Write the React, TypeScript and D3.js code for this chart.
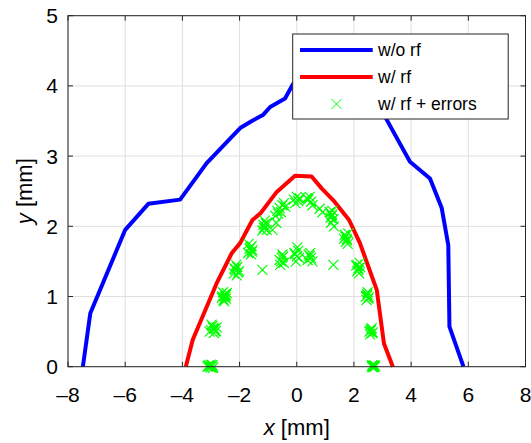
import React from 'react';
import * as d3 from 'd3';

const xTicks = [-8, -6, -4, -2, 0, 2, 4, 6, 8];
const yTicks = [0, 1, 2, 3, 4, 5];

// w/o rf
const blueX = [-7.48, -7.22, -6.0, -5.19, -4.08, -3.15, -1.98, -1.57, -1.17, -0.93, -0.41, -0.14, 0.3, 1.5, 2.6, 3.13, 3.96, 4.66, 5.07, 5.3, 5.34, 5.83];
const blueY = [0, 0.76, 1.95, 2.32, 2.38, 2.9, 3.4, 3.5, 3.59, 3.7, 3.82, 4.02, 4.25, 4.3, 4.0, 3.53, 2.92, 2.68, 2.26, 1.73, 0.57, 0];

// w/ rf
const redX = [-3.88, -3.64, -2.8, -2.27, -1.98, -1.55, -1.28, -0.7, -0.06, 0.52, 0.87, 1.28, 1.83, 2.21, 2.8, 3.05, 3.36];
const redY = [0, 0.38, 1.19, 1.62, 1.76, 2.09, 2.18, 2.49, 2.72, 2.71, 2.54, 2.37, 2.09, 1.76, 1.09, 0.33, 0];

// w/ rf + errors
const errX = [
  -3.12, -3.05, -2.98, -2.92, -3.08, -2.95, -3.02, -3.1, -2.94, -3.0,
  -3.0, -2.92, -2.85, -2.95, -2.8, -3.05, -2.9, -2.88, -2.98, -2.83,
  -2.6, -2.52, -2.48, -2.56, -2.45, -2.58, -2.5, -2.54, -2.47, -2.62,
  -2.15, -2.08, -2.2, -2.1, -2.02, -2.12, -2.18, -2.05, -2.14,
  -1.65, -1.58, -1.7, -1.6, -1.55, -1.68, -1.62, -1.57,
  -1.15, -1.08, -1.2, -1.05, -1.12, -1.1, -1.17,
  -0.75, -0.68, -0.6, -0.72, -0.5, -0.45, -0.55, -0.65, -0.4,
  -0.1, 0.0, 0.05, -0.05, 0.4, 0.5, 0.45, 0.55, 0.8, 0.9, 0.35, 0.1,
  1.15, 1.22, 1.28, 1.2, 1.25, 1.3, 1.18, 1.24,
  1.68, 1.75, 1.8, 1.72, 1.78, 1.65, 1.7, 1.76,
  2.1, 2.15, 2.2, 2.12, 2.18, 2.22, 2.16, 2.08,
  2.42, 2.47, 2.5, 2.44, 2.48, 2.45, 2.52,
  2.54, 2.6, 2.64, 2.56, 2.62, 2.58, 2.66,
  2.62, 2.68, 2.74, 2.66, 2.72, 2.7, 2.64,
  -0.6, -0.52, -0.45, -0.58, -0.5, -0.55, -0.48,
  -0.08, 0.0, 0.05, -0.03, 0.08, 0.02, -0.06,
  0.42, 0.5, 0.47, 0.55, 0.38, 0.45,
  1.28, -1.2, -0.85,
];
const errY = [
  0, 0.01, 0, -0.01, 0.02, 0.02, -0.01, 0.0, -0.02, 0.03,
  0.52, 0.55, 0.5, 0.58, 0.56, 0.5, 0.48, 0.54, 0.6, 0.51,
  1.0, 1.03, 0.97, 0.95, 1.05, 1.06, 1.0, 0.93, 1.02, 0.98,
  1.38, 1.42, 1.33, 1.3, 1.36, 1.45, 1.4, 1.34, 1.39,
  1.68, 1.72, 1.62, 1.6, 1.66, 1.75, 1.7, 1.64,
  1.98, 2.04, 1.94, 1.95, 2.08, 2.0, 2.02,
  2.15, 2.22, 2.26, 2.05, 2.3, 2.33, 2.2, 2.18, 2.28,
  2.38, 2.42, 2.36, 2.33, 2.38, 2.35, 2.42, 2.3, 2.25, 2.2, 2.4, 2.4,
  2.2, 2.15, 2.1, 2.05, 2.22, 2.0, 2.12, 2.17,
  1.88, 1.82, 1.9, 1.78, 1.75, 1.82, 1.85, 1.8,
  1.45, 1.4, 1.48, 1.36, 1.33, 1.42, 1.38, 1.44,
  1.0, 1.03, 0.97, 0.95, 1.06, 1.01, 0.99,
  0.5, 0.53, 0.48, 0.46, 0.55, 0.51, 0.49,
  0, 0.01, 0, -0.01, 0.02, 0.0, 0.02,
  1.52, 1.55, 1.48, 1.45, 1.6, 1.5, 1.57,
  1.62, 1.57, 1.65, 1.5, 1.55, 1.7, 1.6,
  1.6, 1.55, 1.62, 1.5, 1.52, 1.58,
  1.45, 1.38, 1.95,
];

const legendLabels = ['w/o rf', 'w/ rf', 'w/ rf + errors'];

const W = 531, H = 443;
const margin = { left: 68, right: 5.5, top: 15.7, bottom: 76.3 };
const font = '"Liberation Sans", Arial, Helvetica, sans-serif';

export default function App() {
  const x = d3.scaleLinear().domain([-8, 8]).range([margin.left, W - margin.right]);
  const y = d3.scaleLinear().domain([0, 5]).range([H - margin.bottom, margin.top]);
  const x0 = x(-8), x1 = x(8), y0 = y(0), y1 = y(5);

  const mk = (xs: number[], ys: number[]) =>
    d3.line<number>().x(d => x(xs[d])).y(d => y(ys[d]))(xs.map((_, i) => i)) || '';

  const cross = (cx: number, cy: number, s = 5) =>
    `M${cx - s},${cy - s}L${cx + s},${cy + s}M${cx - s},${cy + s}L${cx + s},${cy - s}`;

  const axisColor = '#262626';
  const tick = 5;

  // legend box
  const lg = { x: 292.7, y: 34, w: 215.5, h: 85 };
  const rowY = [50, 77, 104];

  return (
    <svg width={W} height={H} style={{ position: 'fixed', left: 0, top: 0, background: '#fff' }} fontFamily={font}>
      <rect x={0} y={0} width={W} height={H} fill="#fff" />
      {/* grid */}
      <g stroke="#dfdfdf" strokeWidth={1}>
        {xTicks.map(t => <line key={'gx' + t} x1={x(t)} x2={x(t)} y1={y0} y2={y1} />)}
        {yTicks.map(t => <line key={'gy' + t} x1={x0} x2={x1} y1={y(t)} y2={y(t)} />)}
      </g>
      {/* data */}
      <path d={mk(blueX, blueY)} fill="none" stroke="#0000ff" strokeWidth={4} strokeLinejoin="round" />
      <path d={mk(redX, redY)} fill="none" stroke="#ff0000" strokeWidth={4} strokeLinejoin="round" />
      <path d={errX.map((v, i) => cross(x(v), y(errY[i]))).join('')} fill="none" stroke="#00ff00" strokeWidth={1.2} />
      {/* axes box */}
      <rect x={x0} y={y1} width={x1 - x0} height={y0 - y1} fill="none" stroke={axisColor} strokeWidth={1} />
      <g stroke={axisColor} strokeWidth={1}>
        {xTicks.map(t => (
          <g key={'tx' + t}>
            <line x1={x(t)} x2={x(t)} y1={y0} y2={y0 - tick} />
            <line x1={x(t)} x2={x(t)} y1={y1} y2={y1 + tick} />
          </g>
        ))}
        {yTicks.map(t => (
          <g key={'ty' + t}>
            <line x1={x0} x2={x0 + tick} y1={y(t)} y2={y(t)} />
            <line x1={x1} x2={x1 - tick} y1={y(t)} y2={y(t)} />
          </g>
        ))}
      </g>
      {/* tick labels */}
      <g fontSize={21} fill="#000">
        {xTicks.map(t => (
          <text key={'lx' + t} x={x(t)} y={402} textAnchor="middle">{t < 0 ? '\u2013' + Math.abs(t) : t}</text>
        ))}
        {yTicks.map(t => (
          <text key={'ly' + t} x={58} y={y(t) + 7.5} textAnchor="end">{t}</text>
        ))}
      </g>
      {/* axis labels */}
      <text x={(x0 + x1) / 2} y={435} textAnchor="middle" fontSize={22}>
        <tspan fontStyle="italic">x</tspan> [mm]
      </text>
      <text transform={`translate(32,${(y0 + y1) / 2}) rotate(-90)`} textAnchor="middle" fontSize={22}>
        <tspan fontStyle="italic">y</tspan> [mm]
      </text>
      {/* legend */}
      <rect x={lg.x} y={lg.y} width={lg.w} height={lg.h} fill="#fff" stroke={axisColor} strokeWidth={1} />
      <line x1={300} x2={372.7} y1={rowY[0]} y2={rowY[0]} stroke="#0000ff" strokeWidth={4} />
      <line x1={300} x2={372.7} y1={rowY[1]} y2={rowY[1]} stroke="#ff0000" strokeWidth={4} />
      <path d={cross(336.5, rowY[2])} stroke="#00ff00" strokeWidth={1} fill="none" />
      <g fontSize={17.5} fill="#000">
        {legendLabels.map((l, i) => (
          <text key={l} x={378} y={rowY[i] + 6}>{l}</text>
        ))}
      </g>
    </svg>
  );
}
